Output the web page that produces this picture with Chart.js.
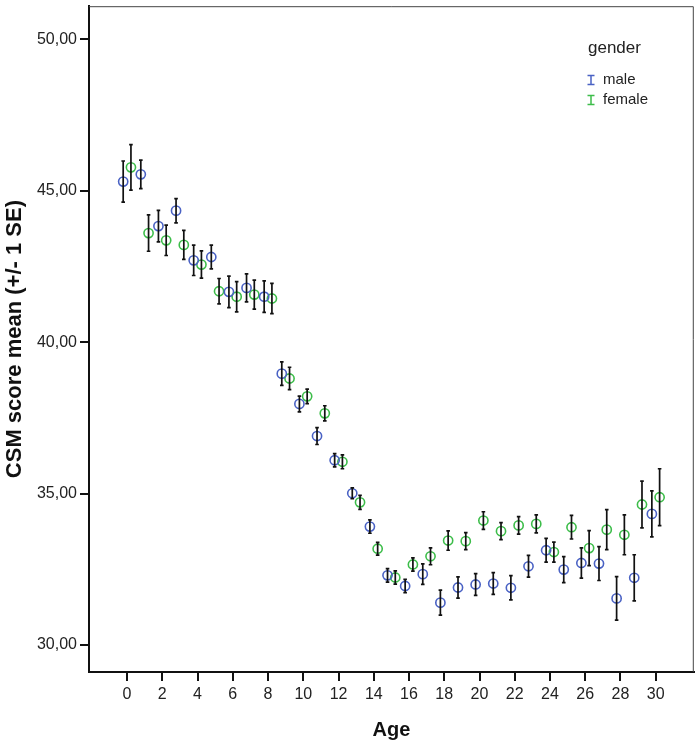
<!DOCTYPE html>
<html>
<head>
<meta charset="utf-8">
<script src="https://cdn.jsdelivr.net/npm/chart.js@4.4.0/dist/chart.umd.min.js"></script>
<style>
  html, body { margin: 0; padding: 0; background: #fff; }
</style>
</head>
<body>
<canvas id="chart" width="700" height="745"></canvas>
<script>
const ages = [0, 1, 2, 3, 4, 5, 6, 7, 8, 9, 10, 11, 12, 13, 14, 15, 16, 17, 18, 19, 20, 21, 22, 23, 24, 25, 26, 27, 28, 29, 30];

const maleMean = [45.30, 45.54, 43.83, 44.34, 42.70, 42.81, 41.66, 41.79, 41.50, 38.96, 37.96, 36.90, 36.10, 35.01, 33.91, 32.30,
                  31.95, 32.34, 31.40, 31.90, 32.00, 32.03, 31.89, 32.60, 33.13, 32.49, 32.71, 32.69, 31.54, 32.22, 34.33];
const maleSE = [0.68, 0.47, 0.52, 0.40, 0.50, 0.39, 0.52, 0.46, 0.52, 0.39, 0.26, 0.28, 0.22, 0.18, 0.22, 0.22,
                0.22, 0.34, 0.41, 0.35, 0.36, 0.36, 0.40, 0.36, 0.39, 0.43, 0.50, 0.56, 0.72, 0.76, 0.76];

const femaleMean = [45.77, 43.60, 43.36, 43.21, 42.56, 41.68, 41.50, 41.57, 41.44, 38.80, 38.21, 37.65, 36.05, 34.71, 33.18, 32.23,
                    32.66, 32.93, 33.45, 33.43, 34.11, 33.76, 33.95, 34.00, 33.07, 33.89, 33.20, 33.81, 33.64, 34.64, 34.88];
const femaleSE = [0.75, 0.60, 0.50, 0.48, 0.45, 0.42, 0.50, 0.48, 0.50, 0.37, 0.24, 0.25, 0.23, 0.23, 0.21, 0.22,
                  0.22, 0.28, 0.32, 0.28, 0.29, 0.28, 0.29, 0.30, 0.33, 0.39, 0.58, 0.66, 0.66, 0.77, 0.94];

const xTicks = [0, 2, 4, 6, 8, 10, 12, 14, 16, 18, 20, 22, 24, 26, 28, 30];
const yTicks = [30, 35, 40, 45, 50];

const seriesNames = ['male', 'female'];
const legendTitle = 'gender';
const xTitle = 'Age';
const yTitle = 'CSM score mean (+/- 1 SE)';

const FONT = "'Liberation Sans', Arial, sans-serif";
const BLUE = '#4a62c4';
const GREEN = '#3dbd4a';
const dodge = 0.22;

function toPoints(means, ses, shift) {
    return ages.map((a, i) => ({ x: a + shift, y: means[i], se: ses[i] }));
}

// black SE whiskers drawn on top of the circles
const errorBars = {
    id: 'errorBars',
    afterDatasetsDraw(chart) {
        const { ctx, scales: { x, y } } = chart;
        ctx.save();
        ctx.strokeStyle = '#111';
        ctx.lineWidth = 1.7;
        chart.data.datasets.forEach((ds) => {
            ds.data.forEach((p) => {
                const px = x.getPixelForValue(p.x);
                const top = y.getPixelForValue(p.y + p.se);
                const bot = y.getPixelForValue(p.y - p.se);
                ctx.beginPath();
                ctx.moveTo(px, top);
                ctx.lineTo(px, bot);
                ctx.moveTo(px - 1.8, top);
                ctx.lineTo(px + 1.8, top);
                ctx.moveTo(px - 1.8, bot);
                ctx.lineTo(px + 1.8, bot);
                ctx.stroke();
            });
        });
        ctx.restore();
    }
};

// thin frame on top/right plus the gender legend inside the plot
const frameAndLegend = {
    id: 'frameAndLegend',
    afterDraw(chart) {
        const { ctx, chartArea: a } = chart;
        ctx.save();
        ctx.strokeStyle = '#444';
        ctx.lineWidth = 1;
        ctx.beginPath();
        ctx.moveTo(a.left, a.top + 0.5);
        ctx.lineTo(a.right - 0.5, a.top + 0.5);
        ctx.lineTo(a.right - 0.5, a.bottom);
        ctx.stroke();

        ctx.fillStyle = '#222';
        ctx.textBaseline = 'middle';
        ctx.textAlign = 'left';
        ctx.font = '17px ' + FONT;
        ctx.fillText(legendTitle, 588, 48);

        ctx.font = '15px ' + FONT;
        chart.data.datasets.forEach((ds, i) => {
            const cy = 80 + i * 20;
            ctx.strokeStyle = ds.borderColor;
            ctx.lineWidth = 1.5;
            ctx.beginPath();
            ctx.moveTo(591, cy - 4.5);
            ctx.lineTo(591, cy + 4.5);
            ctx.moveTo(587.5, cy - 4.5);
            ctx.lineTo(594.5, cy - 4.5);
            ctx.moveTo(587.5, cy + 4.5);
            ctx.lineTo(594.5, cy + 4.5);
            ctx.stroke();
            ctx.fillStyle = '#222';
            ctx.fillText(ds.label, 603, cy);
        });
        ctx.restore();
    }
};

new Chart(document.getElementById('chart'), {
    type: 'scatter',
    data: {
        datasets: [
            {
                label: seriesNames[0],
                data: toPoints(maleMean, maleSE, -dodge),
                borderColor: BLUE,
                backgroundColor: 'rgba(0,0,0,0)',
                pointRadius: 4.6,
                borderWidth: 1.6
            },
            {
                label: seriesNames[1],
                data: toPoints(femaleMean, femaleSE, dodge),
                borderColor: GREEN,
                backgroundColor: 'rgba(0,0,0,0)',
                pointRadius: 4.6,
                borderWidth: 1.6
            }
        ]
    },
    options: {
        responsive: false,
        animation: false,
        devicePixelRatio: 1,
        layout: { padding: { top: 3, right: 3, left: 0, bottom: 0 } },
        plugins: {
            legend: { display: false },
            tooltip: { enabled: false }
        },
        scales: {
            x: {
                type: 'linear',
                min: -2.16,
                max: 32.16,
                afterBuildTicks: (s) => { s.ticks = xTicks.map((v) => ({ value: v })); },
                afterFit: (s) => { s.height = 73; s.paddingLeft = 0; s.paddingRight = 0; },
                grid: { drawOnChartArea: false, drawTicks: true, tickLength: 9, color: '#111', lineWidth: 2 },
                border: { display: true, color: '#111', width: 2 },
                ticks: { padding: 4, color: '#222', font: { family: FONT, size: 16 }, maxRotation: 0 },
                title: { display: true, text: xTitle, color: '#111', font: { family: FONT, size: 20, weight: 'bold' }, padding: { top: 0, bottom: 3 } }
            },
            y: {
                type: 'linear',
                min: 29.11,
                max: 51.09,
                afterBuildTicks: (s) => { s.ticks = yTicks.map((v) => ({ value: v })); },
                afterFit: (s) => { s.width = 89; s.paddingTop = 0; s.paddingBottom = 0; },
                grid: { drawOnChartArea: false, drawTicks: true, tickLength: 9, color: '#111', lineWidth: 2 },
                border: { display: true, color: '#111', width: 2 },
                ticks: {
                    padding: 3,
                    color: '#222',
                    font: { family: FONT, size: 16 },
                    callback: (v) => v.toFixed(2).replace('.', ',')
                },
                title: { display: true, text: yTitle, color: '#111', font: { family: FONT, size: 22, weight: 'bold' }, padding: { top: 2, bottom: 0 } }
            }
        }
    },
    plugins: [errorBars, frameAndLegend]
});
</script>
</body>
</html>
